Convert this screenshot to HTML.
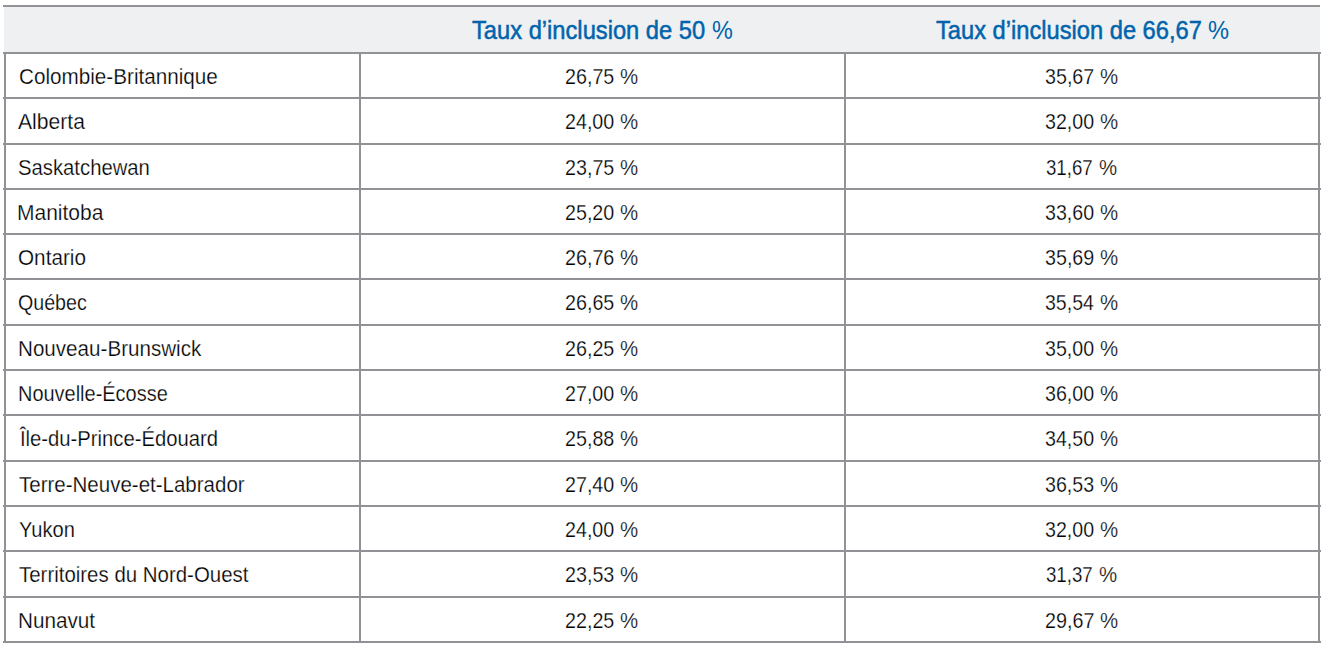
<!DOCTYPE html>
<html><head><meta charset="utf-8"><style>
html,body{margin:0;padding:0;background:#fff;}
body{width:1324px;height:646px;position:relative;overflow:hidden;font-family:"Liberation Sans",sans-serif;}
.h{position:absolute;height:2px;background:#919296;}
.v{position:absolute;width:2px;background:#919296;}
.t{position:absolute;white-space:pre;line-height:0;font-size:22px;color:#000;transform-origin:0 0;-webkit-text-stroke:0.25px #fff;}
.hd{position:absolute;white-space:pre;line-height:0;font-size:25px;color:#0064ad;transform-origin:0 0;}
.b{-webkit-text-stroke:0.5px #0064ad;}
</style></head><body>
<div style="position:absolute;left:4px;top:7px;width:1316px;height:45px;background:#eff0f2"></div>
<div class="h" style="left:3px;top:5px;width:1317px"></div>
<div class="h" style="left:3px;top:52px;width:1318px"></div>
<div class="h" style="left:3px;top:97px;width:1318px"></div>
<div class="h" style="left:3px;top:143px;width:1318px"></div>
<div class="h" style="left:3px;top:188px;width:1318px"></div>
<div class="h" style="left:3px;top:233px;width:1318px"></div>
<div class="h" style="left:3px;top:278px;width:1318px"></div>
<div class="h" style="left:3px;top:324px;width:1318px"></div>
<div class="h" style="left:3px;top:369px;width:1318px"></div>
<div class="h" style="left:3px;top:414px;width:1318px"></div>
<div class="h" style="left:3px;top:460px;width:1318px"></div>
<div class="h" style="left:3px;top:505px;width:1318px"></div>
<div class="h" style="left:3px;top:550px;width:1318px"></div>
<div class="h" style="left:3px;top:596px;width:1318px"></div>
<div class="h" style="left:3px;top:641px;width:1318px"></div>
<div class="v" style="left:4px;top:52px;height:591px"></div>
<div class="v" style="left:359px;top:52px;height:591px"></div>
<div class="v" style="left:844px;top:52px;height:591px"></div>
<div class="v" style="left:1318px;top:52px;height:591px"></div>
<div class="hd b" style="left:471.72px;top:29.80px;transform:scaleX(0.9478)">Taux d’inclusion de 50</div>
<div class="hd" style="left:712.36px;top:29.80px;transform:scaleX(0.9363)">%</div>
<div class="hd b" style="left:935.52px;top:29.80px;transform:scaleX(0.9470)">Taux d’inclusion de 66,67</div>
<div class="hd" style="left:1208.15px;top:29.80px;transform:scaleX(0.9461)">%</div>
<div class="t" style="left:18.57px;top:77.00px;transform:scaleX(0.9399)">Colombie-Britannique</div>
<div class="t" style="left:565.01px;top:77.00px;transform:scaleX(0.8962)">26,75</div>
<div class="t" style="left:620.36px;top:77.00px;transform:scaleX(0.9278)">%</div>
<div class="t" style="left:1045.09px;top:77.00px;transform:scaleX(0.8945)">35,67</div>
<div class="t" style="left:1100.26px;top:77.00px;transform:scaleX(0.9278)">%</div>
<div class="t" style="left:17.90px;top:122.00px;transform:scaleX(0.9598)">Alberta</div>
<div class="t" style="left:565.02px;top:122.00px;transform:scaleX(0.8945)">24,00</div>
<div class="t" style="left:620.36px;top:122.00px;transform:scaleX(0.9278)">%</div>
<div class="t" style="left:1045.10px;top:122.00px;transform:scaleX(0.8912)">32,00</div>
<div class="t" style="left:1100.26px;top:122.00px;transform:scaleX(0.9278)">%</div>
<div class="t" style="left:18.18px;top:168.00px;transform:scaleX(0.9218)">Saskatchewan</div>
<div class="t" style="left:565.01px;top:168.00px;transform:scaleX(0.8962)">23,75</div>
<div class="t" style="left:620.36px;top:168.00px;transform:scaleX(0.9278)">%</div>
<div class="t" style="left:1046.39px;top:168.00px;transform:scaleX(0.8475)">31,67</div>
<div class="t" style="left:1099.01px;top:168.00px;transform:scaleX(0.9278)">%</div>
<div class="t" style="left:17.38px;top:213.00px;transform:scaleX(0.9549)">Manitoba</div>
<div class="t" style="left:565.02px;top:213.00px;transform:scaleX(0.8945)">25,20</div>
<div class="t" style="left:620.36px;top:213.00px;transform:scaleX(0.9278)">%</div>
<div class="t" style="left:1045.10px;top:213.00px;transform:scaleX(0.8912)">33,60</div>
<div class="t" style="left:1100.26px;top:213.00px;transform:scaleX(0.9278)">%</div>
<div class="t" style="left:18.16px;top:258.00px;transform:scaleX(0.9416)">Ontario</div>
<div class="t" style="left:565.01px;top:258.00px;transform:scaleX(0.8962)">26,76</div>
<div class="t" style="left:620.36px;top:258.00px;transform:scaleX(0.9278)">%</div>
<div class="t" style="left:1045.09px;top:258.00px;transform:scaleX(0.8945)">35,69</div>
<div class="t" style="left:1100.26px;top:258.00px;transform:scaleX(0.9278)">%</div>
<div class="t" style="left:18.21px;top:303.00px;transform:scaleX(0.8927)">Québec</div>
<div class="t" style="left:565.01px;top:303.00px;transform:scaleX(0.8962)">26,65</div>
<div class="t" style="left:620.36px;top:303.00px;transform:scaleX(0.9278)">%</div>
<div class="t" style="left:1045.10px;top:303.00px;transform:scaleX(0.8879)">35,54</div>
<div class="t" style="left:1100.26px;top:303.00px;transform:scaleX(0.9278)">%</div>
<div class="t" style="left:17.81px;top:349.00px;transform:scaleX(0.9370)">Nouveau-Brunswick</div>
<div class="t" style="left:565.01px;top:349.00px;transform:scaleX(0.8962)">26,25</div>
<div class="t" style="left:620.36px;top:349.00px;transform:scaleX(0.9278)">%</div>
<div class="t" style="left:1045.10px;top:349.00px;transform:scaleX(0.8912)">35,00</div>
<div class="t" style="left:1100.26px;top:349.00px;transform:scaleX(0.9278)">%</div>
<div class="t" style="left:17.87px;top:394.00px;transform:scaleX(0.9070)">Nouvelle-Écosse</div>
<div class="t" style="left:565.02px;top:394.00px;transform:scaleX(0.8945)">27,00</div>
<div class="t" style="left:620.36px;top:394.00px;transform:scaleX(0.9278)">%</div>
<div class="t" style="left:1045.10px;top:394.00px;transform:scaleX(0.8912)">36,00</div>
<div class="t" style="left:1100.26px;top:394.00px;transform:scaleX(0.9278)">%</div>
<div class="t" style="left:19.56px;top:439.00px;transform:scaleX(0.9197)">Île-du-Prince-Édouard</div>
<div class="t" style="left:565.01px;top:439.00px;transform:scaleX(0.8962)">25,88</div>
<div class="t" style="left:620.36px;top:439.00px;transform:scaleX(0.9278)">%</div>
<div class="t" style="left:1045.10px;top:439.00px;transform:scaleX(0.8912)">34,50</div>
<div class="t" style="left:1100.26px;top:439.00px;transform:scaleX(0.9278)">%</div>
<div class="t" style="left:18.53px;top:485.00px;transform:scaleX(0.9320)">Terre-Neuve-et-Labrador</div>
<div class="t" style="left:565.02px;top:485.00px;transform:scaleX(0.8945)">27,40</div>
<div class="t" style="left:620.36px;top:485.00px;transform:scaleX(0.9278)">%</div>
<div class="t" style="left:1045.10px;top:485.00px;transform:scaleX(0.8929)">36,53</div>
<div class="t" style="left:1100.26px;top:485.00px;transform:scaleX(0.9278)">%</div>
<div class="t" style="left:19.04px;top:530.00px;transform:scaleX(0.9139)">Yukon</div>
<div class="t" style="left:565.02px;top:530.00px;transform:scaleX(0.8945)">24,00</div>
<div class="t" style="left:620.36px;top:530.00px;transform:scaleX(0.9278)">%</div>
<div class="t" style="left:1045.10px;top:530.00px;transform:scaleX(0.8912)">32,00</div>
<div class="t" style="left:1100.26px;top:530.00px;transform:scaleX(0.9278)">%</div>
<div class="t" style="left:18.54px;top:575.00px;transform:scaleX(0.9289)">Territoires du Nord-Ouest</div>
<div class="t" style="left:565.01px;top:575.00px;transform:scaleX(0.8962)">23,53</div>
<div class="t" style="left:620.36px;top:575.00px;transform:scaleX(0.9278)">%</div>
<div class="t" style="left:1046.39px;top:575.00px;transform:scaleX(0.8475)">31,37</div>
<div class="t" style="left:1099.01px;top:575.00px;transform:scaleX(0.9278)">%</div>
<div class="t" style="left:18.31px;top:621.00px;transform:scaleX(0.9412)">Nunavut</div>
<div class="t" style="left:565.01px;top:621.00px;transform:scaleX(0.8962)">22,25</div>
<div class="t" style="left:620.36px;top:621.00px;transform:scaleX(0.9278)">%</div>
<div class="t" style="left:1044.91px;top:621.00px;transform:scaleX(0.8979)">29,67</div>
<div class="t" style="left:1100.26px;top:621.00px;transform:scaleX(0.9278)">%</div>
</body></html>
